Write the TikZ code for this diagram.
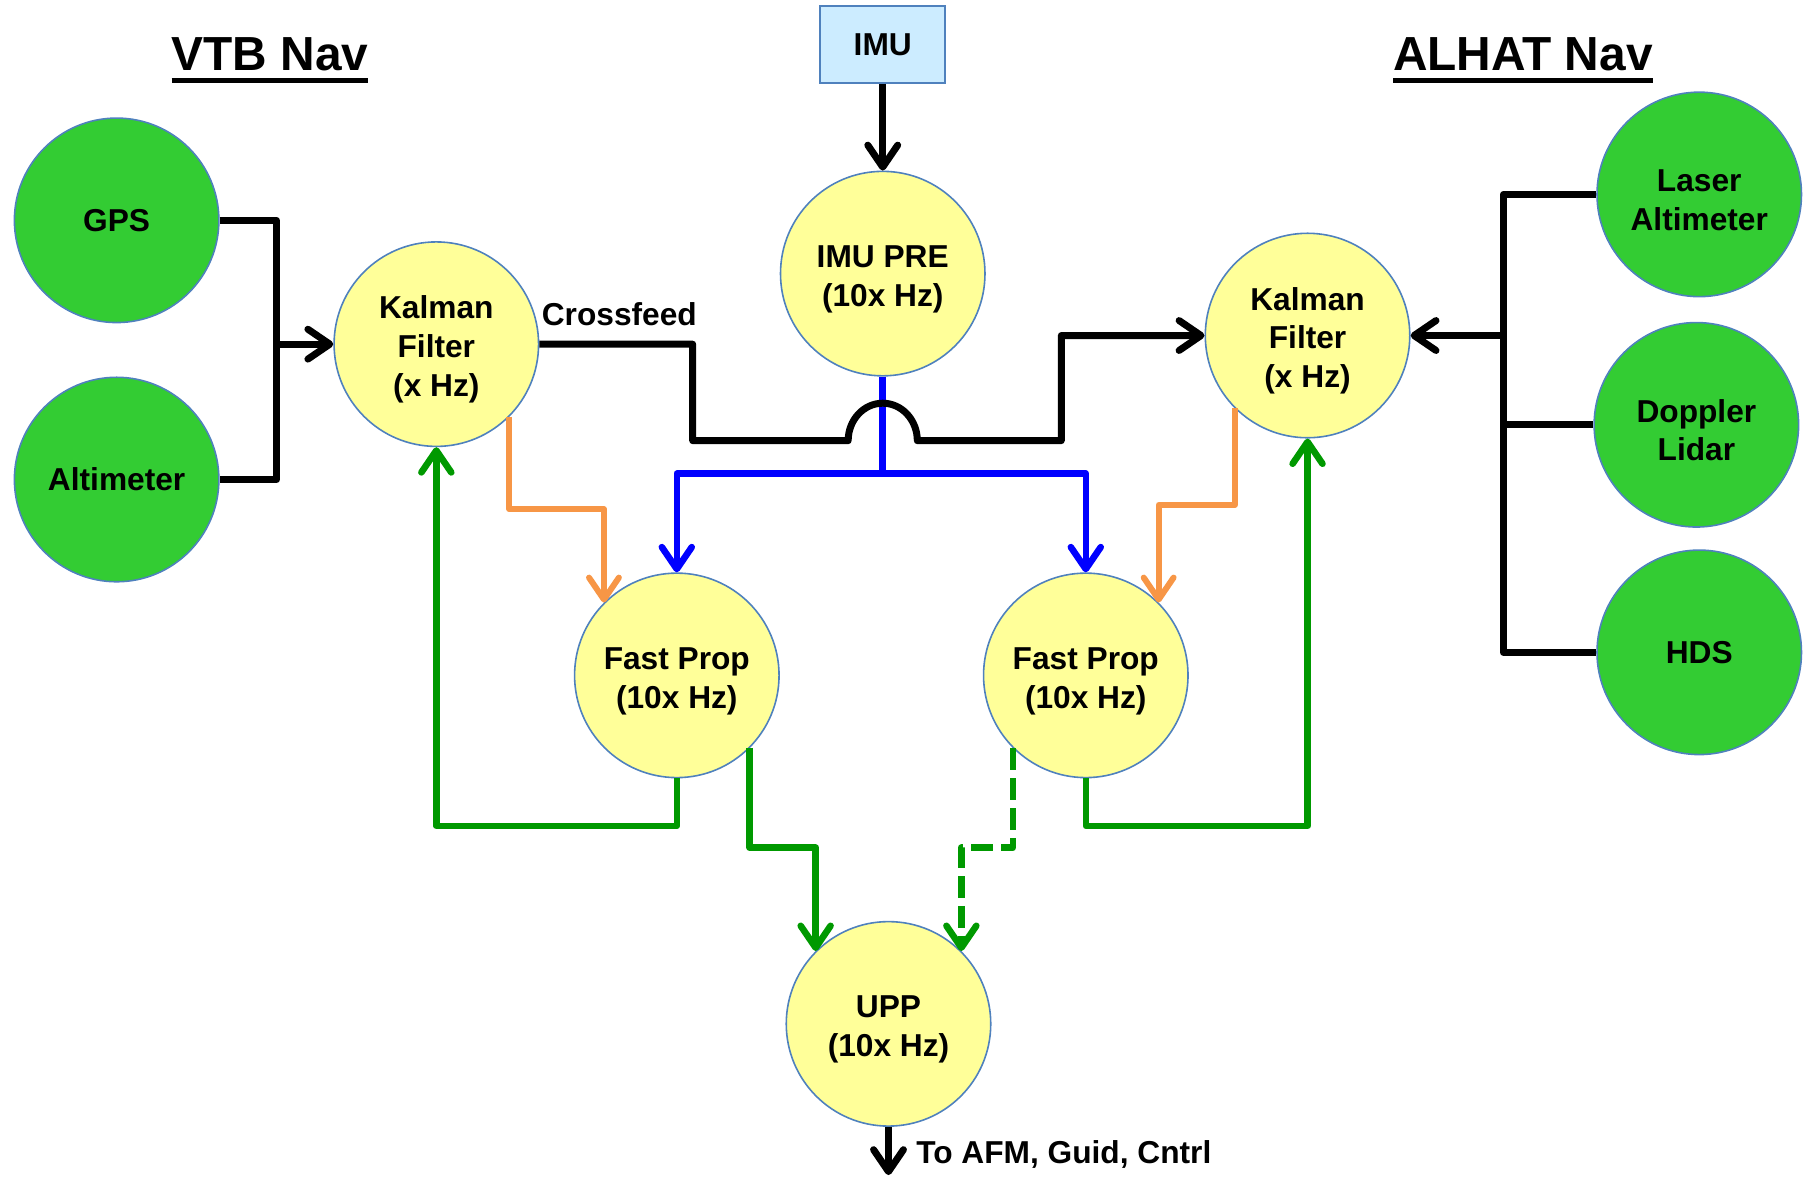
\documentclass[tikz,border=0pt]{standalone}
\usepackage{fontspec}
\setmainfont{Liberation Sans}
\usepackage{tikz}
\usetikzlibrary{arrows.meta}
\definecolor{procfill}{RGB}{255,255,153}
\definecolor{sensorfill}{RGB}{51,204,51}
\definecolor{imufill}{RGB}{204,236,255}
\definecolor{rimblue}{RGB}{79,129,189}
\definecolor{feedorange}{RGB}{247,150,70}
\definecolor{propgreen}{RGB}{0,153,0}
\newcommand{\navfont}{\fontsize{15.9pt}{19.4pt}\selectfont\bfseries}
\newcommand{\navtitle}[1]{\fontsize{24pt}{28pt}\selectfont\bfseries\setbox0=\hbox{#1}\rlap{\rule[-5.8pt]{\wd0}{2.4pt}}\box0}
\newcommand{\tstrut}{\rule{0pt}{16.8pt}}
\tikzset{>={Straight Barb[length=11pt,width=15pt,round]}}
\tikzset{
  procnode/.style={shape=circle,fill=procfill,draw=rimblue,line width=0.8pt,minimum size=1.42in,inner sep=0pt,align=center,font=\navfont},
  sensornode/.style={procnode,fill=sensorfill},
  imunode/.style={shape=rectangle,fill=imufill,draw=rimblue,line width=1pt,minimum width=0.87in,minimum height=0.53in,font=\navfont},
  navline/.style={draw=black,line width=3.5pt,line join=round},
  imuline/.style={draw=blue,line width=3.3pt,line join=round},
  feedline/.style={draw=feedorange,line width=3pt,line join=round},
  propline/.style={draw=propgreen,line width=3.3pt,line join=round},
  labeltext/.style={inner sep=0pt,font=\navfont}
}

\begin{document}
\begin{tikzpicture}

\useasboundingbox (0in,0in) rectangle (12.583in,-8.167in);

\path (1.875in,-0.493in) node [anchor=base,inner sep=0pt] (vtbtitle) {\navtitle{VTB Nav}};
\path (10.576in,-0.493in) node [anchor=base,inner sep=0pt] (alhattitle) {\navtitle{ALHAT Nav}};

\path (0.81in,-1.53in) node [sensornode] (gps) {GPS};
\path (0.81in,-3.33in) node [sensornode] (alt) {Altimeter};
\path (3.03in,-2.39in) node [procnode] (kall) {\tstrut Kalman\\Filter\\(x Hz)};

\path (6.13in,-0.31in) node [imunode] (imu) {IMU};
\path (6.13in,-1.90in) node [procnode] (imupre) {\tstrut IMU PRE\\(10x Hz)};

\path (9.08in,-2.33in) node [procnode] (kalr) {\tstrut Kalman\\Filter\\(x Hz)};
\path (11.80in,-1.35in) node [sensornode] (laser) {\tstrut Laser\\Altimeter};
\path (11.78in,-2.95in) node [sensornode] (doppler) {\tstrut Doppler\\Lidar};
\path (11.80in,-4.53in) node [sensornode] (hds) {HDS};

\path (4.70in,-4.69in) node [procnode] (fastl) {\tstrut Fast Prop\\(10x Hz)};
\path (7.54in,-4.69in) node [procnode] (fastr) {\tstrut Fast Prop\\(10x Hz)};
\path (6.17in,-7.11in) node [procnode] (upp) {\tstrut UPP\\(10x Hz)};

\path (3.76in,-2.26in) node [labeltext,anchor=base west] (crossfeed) {Crossfeed};
\path (6.36in,-8.08in) node [labeltext,anchor=base west] (toafm) {To AFM, Guid, Cntrl};

\coordinate (vtbbus) at (1.92in,-2.39in);
\coordinate (alhatbus) at (10.44in,-2.33in);
\coordinate (split) at (6.13in,-3.29in);
\coordinate (hop) at (6.13in,-3.06in);
\coordinate (out) at (6.17in,-8.16in);

% sensor buses
\draw[navline] (gps.east) -| (vtbbus) |- (alt.east);
\draw[navline,->] (vtbbus) -- (kall.west);
\draw[navline] (laser.west) -| (alhatbus) |- (hds.west);
\draw[navline] (doppler.west) -- (doppler.west -| alhatbus);
\draw[navline,->] (alhatbus) -- (kalr.east);

% imu
\draw[navline,->] (imu.south) -- (imupre.north);
\draw[imuline] (imupre.south) -- (split);
\draw[imuline,->] (split) -| (fastl.north);
\draw[imuline,->] (split) -| (fastr.north);

% crossfeed with hop
\draw[navline,->] (kall.east) -| (4.81in,-3.06in) -- ([xshift=-0.24in]hop)
  arc[start angle=180,end angle=0,x radius=0.24in,y radius=0.26in]
  -- (7.37in,-3.06in) |- (kalr.west);

% filter to prop
\draw[feedline,->] (kall.-45) -- ++(0,-0.64in) -| (fastl.135);
\draw[feedline,->] (kalr.-135) -- ++(0,-0.67in) -| (fastr.45);

% prop feedback
\draw[propline,->] (fastl.south) -- ++(0,-0.33in) -| (kall.south);
\draw[propline,->] (fastr.south) -- ++(0,-0.33in) -| (kalr.south);
\draw[propline,->] (fastl.-45) -- ++(0,-0.69in) -| (upp.135);
\draw[propline,->,dash pattern=on 11pt off 4pt] (fastr.-135) -- ++(0,-0.69in) -| (upp.45);

\draw[navline,->] (upp.south) -- (out);

\end{tikzpicture}
\end{document}
